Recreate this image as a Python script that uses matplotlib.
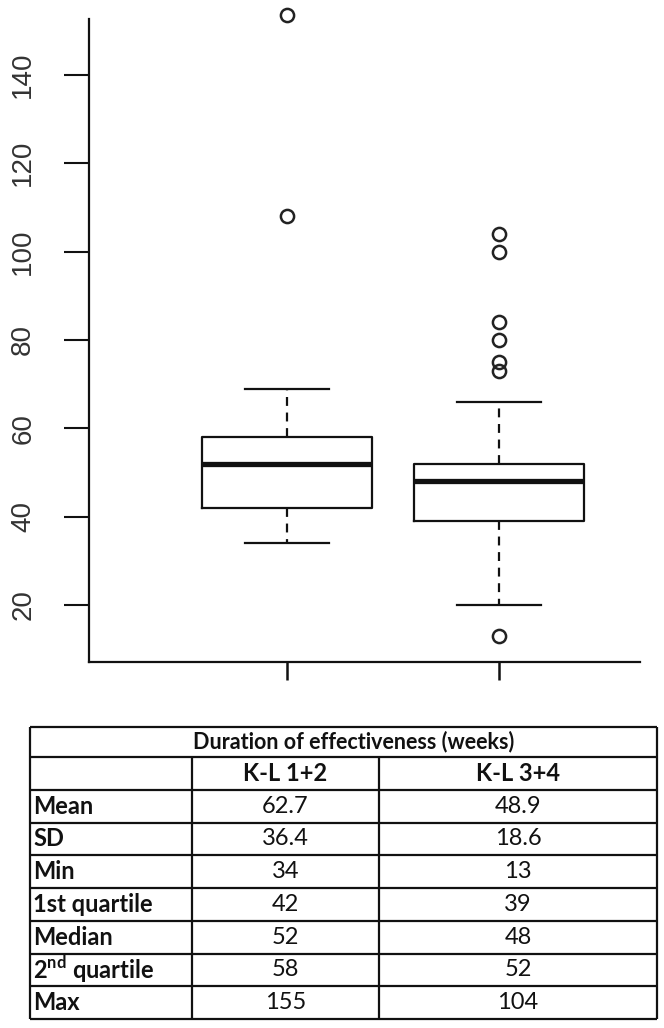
import matplotlib
matplotlib.use("Agg")
import matplotlib.pyplot as plt

# Box plot values
groups = ["K-L 1+2", "K-L 3+4"]
q1s = [42, 39]
medians = [52, 48]
q3s = [58, 52]
whisker_lo = [34, 20]
whisker_hi = [69, 66]
fliers = [[108, 153.5], [13, 73, 75, 80, 84, 100, 104]]
yticks = [20, 40, 60, 80, 100, 120, 140]

# Table values
table_title = "Duration of effectiveness (weeks)"
row_labels = ["Mean", "SD", "Min", "1st quartile", "Median",
              r"2$^{\mathbf{nd}}$ quartile", "Max"]
col1 = ["62.7", "36.4", "34", "42", "52", "58", "155"]
col2 = ["48.9", "18.6", "13", "39", "48", "52", "104"]

plt.rcParams["mathtext.fontset"] = "custom"
plt.rcParams["mathtext.rm"] = "Lato"
plt.rcParams["mathtext.bf"] = "Lato:bold"

W, H = 664, 1028
fig = plt.figure(figsize=(W / 100, H / 100), dpi=100)

# Box plot
ax = fig.add_axes([89 / W, 1 - 662 / H, (640 - 89) / W, (662 - 18.7) / H])
stats = []
for i in range(len(groups)):
    stats.append(dict(med=medians[i], q1=q1s[i], q3=q3s[i],
                      whislo=whisker_lo[i], whishi=whisker_hi[i],
                      fliers=fliers[i]))
ax.bxp(stats, positions=[1, 2], widths=0.8, capwidths=0.4,
       boxprops=dict(color="#111111", linewidth=1.6),
       medianprops=dict(color="#111111", linewidth=3.8, solid_capstyle="butt"),
       whiskerprops=dict(color="#111111", linewidth=1.6, linestyle=(0, (4, 3))),
       capprops=dict(color="#111111", linewidth=1.6),
       flierprops=dict(marker="o", markerfacecolor="none", markeredgecolor="#222222",
                       markersize=9.5, markeredgewidth=1.8))
for line in ax.lines:
    line.set_clip_on(False)

ax.set_xlim(0.066, 2.665)
ax.set_ylim(7.1, 152.7)
ax.set_yticks(yticks)
ax.set_yticklabels([str(t) for t in yticks], rotation=90, va="center",
                   fontsize=20, color="#333333", family="Liberation Sans")
ax.set_xticks([1, 2])
ax.set_xticklabels(["", ""])
ax.tick_params(axis="y", length=18, width=1.5, pad=20, color="#111111")
ax.tick_params(axis="x", length=13, width=1.8, color="#111111")
for side in ["top", "right"]:
    ax.spines[side].set_visible(False)
for side in ["left", "bottom"]:
    ax.spines[side].set_linewidth(1.6)
    ax.spines[side].set_color("#111111")

# Table, drawn in pixel coordinates
tx = fig.add_axes([0, 0, 1, 1])
tx.set_xlim(0, W)
tx.set_ylim(H, 0)
tx.axis("off")

left, c1, c2, right = 30, 192, 379, 657
top, title_bot = 727, 757
row_h = 32.75
n_rows = len(row_labels) + 1
bottom = title_bot + n_rows * row_h
lw = 1.6
ys = [top, title_bot] + [title_bot + row_h * k for k in range(1, n_rows + 1)]
tx.hlines(ys, left, right, color="#111111", linewidth=lw)
tx.vlines([left, right], top, bottom, color="#111111", linewidth=lw)
tx.vlines([c1, c2], title_bot, bottom, color="#111111", linewidth=lw)

font = dict(family="Lato", color="#111111")
tx.text((left + right) / 2 + 10, (top + title_bot) / 2, table_title,
        ha="center", va="center", fontsize=15.5, fontweight="bold", **font)
yc = title_bot + row_h / 2
tx.text((c1 + c2) / 2, yc, groups[0], ha="center", va="center",
        fontsize=17, fontweight="bold", **font)
tx.text((c2 + right) / 2, yc, groups[1], ha="center", va="center",
        fontsize=17, fontweight="bold", **font)
for k in range(len(row_labels)):
    yc = title_bot + row_h * (k + 1.5)
    tx.text(left + 3, yc, row_labels[k], ha="left", va="center",
            fontsize=17, fontweight="bold", **font)
    tx.text((c1 + c2) / 2, yc, col1[k], ha="center", va="center", fontsize=17, **font)
    tx.text((c2 + right) / 2, yc, col2[k], ha="center", va="center", fontsize=17, **font)

fig.savefig("out.png", dpi=100)
